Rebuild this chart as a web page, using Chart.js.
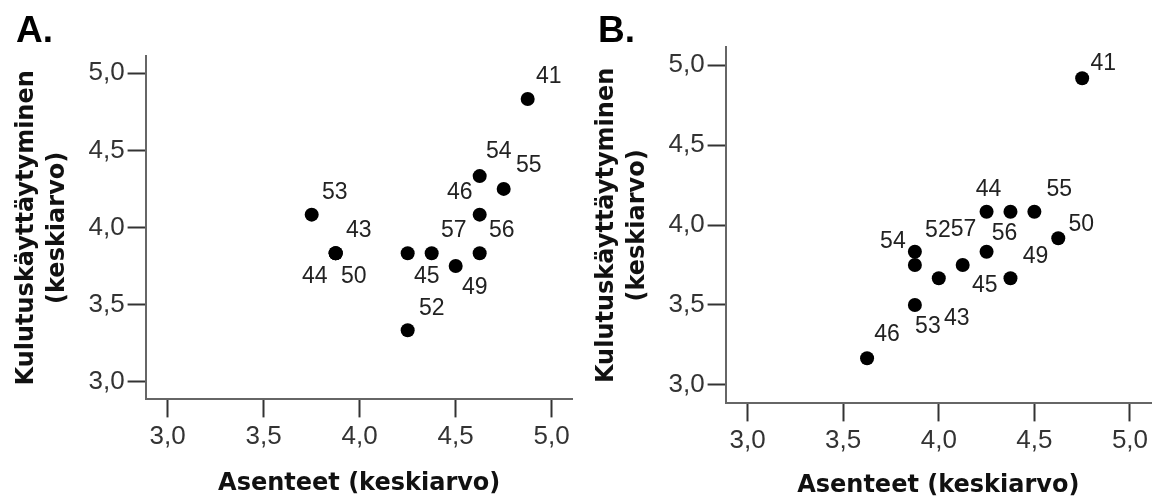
<!DOCTYPE html>
<html>
<head>
<meta charset="utf-8">
<script src="https://cdn.jsdelivr.net/npm/chart.js@4.4.1/dist/chart.umd.min.js"></script>
<style>
    html, body { margin: 0; padding: 0; background: #fff; }
    #wrap { position: relative; width: 1158px; height: 501px; }
    canvas { position: absolute; top: 0; }
</style>
</head>
<body>
<div id="wrap">
    <canvas id="panelA" width="580" height="501" style="left:0"></canvas>
    <canvas id="panelB" width="578" height="501" style="left:580px"></canvas>
</div>
<script>
// Case numbers shown next to the points (same cases in both panels)
const caseIds = ['41', '43', '44', '45', '46', '49', '50', '52', '53', '54', '55', '56', '57'];

// Panel A values
const attitudeA  = [4.875, 3.875, 3.875, 4.25, 4.625, 4.5, 3.875, 4.25, 3.75, 4.625, 4.75, 4.625, 4.375];
const behaviourA = [4.833, 3.833, 3.833, 3.833, 4.083, 3.75, 3.833, 3.333, 4.083, 4.333, 4.25, 3.833, 3.833];

// Panel B values
const attitudeB  = [4.75, 4.0, 4.375, 4.125, 3.625, 4.375, 4.625, 3.875, 3.875, 3.875, 4.5, 4.25, 4.25];
const behaviourB = [4.917, 3.667, 4.083, 3.75, 3.167, 3.667, 3.917, 3.833, 3.5, 3.75, 4.083, 3.833, 4.083];

// Axes
const axisTicks = [3.0, 3.5, 4.0, 4.5, 5.0];
const axisMin = 2.885;
const axisMax = 5.11;
const panelLetters = ['A.', 'B.'];
const xTitle = 'Asenteet (keskiarvo)';
const yTitle = ['Kulutuskäyttäytyminen', '(keskiarvo)'];

// Label placement around each point (px), same order as caseIds
const labelOffsetsA = [[21, -22], [23, -23], [-21, 23], [19, 23], [-20, -22], [19, 22], [18, 23],
                       [24, -22], [23, -22], [19, -24], [25, -23], [22, -23], [22, -23]];
const labelOffsetsB = [[21, -15], [18, 40], [-22, -22], [22, 21], [20, -24], [25, -22], [23, -14],
                       [23, -21], [13, 22], [-22, -23], [25, -22], [18, -18], [-23, 18]];

// Canvas geometry of each panel
const panelLayout = [
    { canvasW: 580, area: { left: 145.6, right: 572.8, top: 56.3, bottom: 399.4 }, letterX: 16, titlePad: 2 },
    { canvasW: 578, area: { left: 145.6, right: 572.8, top: 47.4, bottom: 403.4 }, letterX: 18, titlePad: 0 }
];

const H = 501;
const tickFont = { family: '"Liberation Sans", Arial, sans-serif', size: 26 };
const titleFont = { family: '"DejaVu Sans", sans-serif', size: 24, weight: 'bold', lineHeight: 1.3 };

/**
 * Format a tick value with a decimal comma
 */
function commaTick(v) {
    return v.toFixed(1).replace('.', ',');
}

/**
 * Draw case labels and the panel letter
 */
const caseLabelPlugin = {
    id: 'caseLabels',
    afterDatasetsDraw(chart, args, opts) {
        const ctx = chart.ctx;
        const meta = chart.getDatasetMeta(0);
        ctx.save();
        ctx.fillStyle = '#222';
        ctx.font = '23px "Liberation Sans", Arial, sans-serif';
        ctx.textAlign = 'center';
        ctx.textBaseline = 'middle';
        meta.data.forEach((pt, i) => {
            const off = opts.offsets[i];
            ctx.fillText(caseIds[i], pt.x + off[0], pt.y + off[1]);
        });
        // Panel letter
        ctx.fillStyle = '#000';
        ctx.font = 'bold 37px "Liberation Sans", Arial, sans-serif';
        ctx.textAlign = 'left';
        ctx.textBaseline = 'alphabetic';
        ctx.fillText(opts.letter, opts.letterX, 42);
        ctx.restore();
    }
};

/**
 * Build one scatter panel
 */
function buildPanel(canvasId, xs, ys, offsets, idx) {
    const lay = panelLayout[idx];
    const a = lay.area;
    const points = xs.map((x, i) => ({ x: x, y: ys[i] }));

    const axisCommon = {
        type: 'linear',
        min: axisMin,
        max: axisMax,
        afterBuildTicks: (scale) => {
            scale.ticks = axisTicks.map(v => ({ value: v }));
        },
        grid: {
            drawOnChartArea: false,
            drawTicks: true,
            tickLength: 18,
            tickColor: '#333',
            tickWidth: 2
        },
        border: { display: true, color: '#666', width: 2 }
    };

    return new Chart(document.getElementById(canvasId), {
        type: 'scatter',
        data: {
            datasets: [{
                data: points,
                pointRadius: 7,
                pointHoverRadius: 7,
                pointBackgroundColor: '#000',
                pointBorderWidth: 0
            }]
        },
        options: {
            responsive: false,
            animation: false,
            devicePixelRatio: 1,
            layout: {
                padding: { top: a.top, right: lay.canvasW - a.right, bottom: 0, left: 0 }
            },
            plugins: {
                legend: { display: false },
                tooltip: { enabled: false },
                caseLabels: { offsets: offsets, letter: panelLetters[idx], letterX: lay.letterX }
            },
            scales: {
                x: Object.assign({}, axisCommon, {
                    position: 'bottom',
                    afterFit: (scale) => { scale.height = H - a.bottom; },
                    ticks: { callback: commaTick, font: tickFont, color: '#333', padding: 4, maxRotation: 0 },
                    title: {
                        display: true,
                        text: xTitle,
                        color: '#111',
                        font: titleFont,
                        padding: { top: 0, bottom: lay.titlePad }
                    }
                }),
                y: Object.assign({}, axisCommon, {
                    position: 'left',
                    afterFit: (scale) => { scale.width = a.left; },
                    ticks: { callback: commaTick, font: tickFont, color: '#333', padding: 3 },
                    title: {
                        display: true,
                        text: yTitle,
                        color: '#111',
                        font: titleFont,
                        padding: { top: 11, bottom: 0 }
                    }
                })
            }
        },
        plugins: [caseLabelPlugin]
    });
}

buildPanel('panelA', attitudeA, behaviourA, labelOffsetsA, 0);
buildPanel('panelB', attitudeB, behaviourB, labelOffsetsB, 1);
</script>
</body>
</html>
